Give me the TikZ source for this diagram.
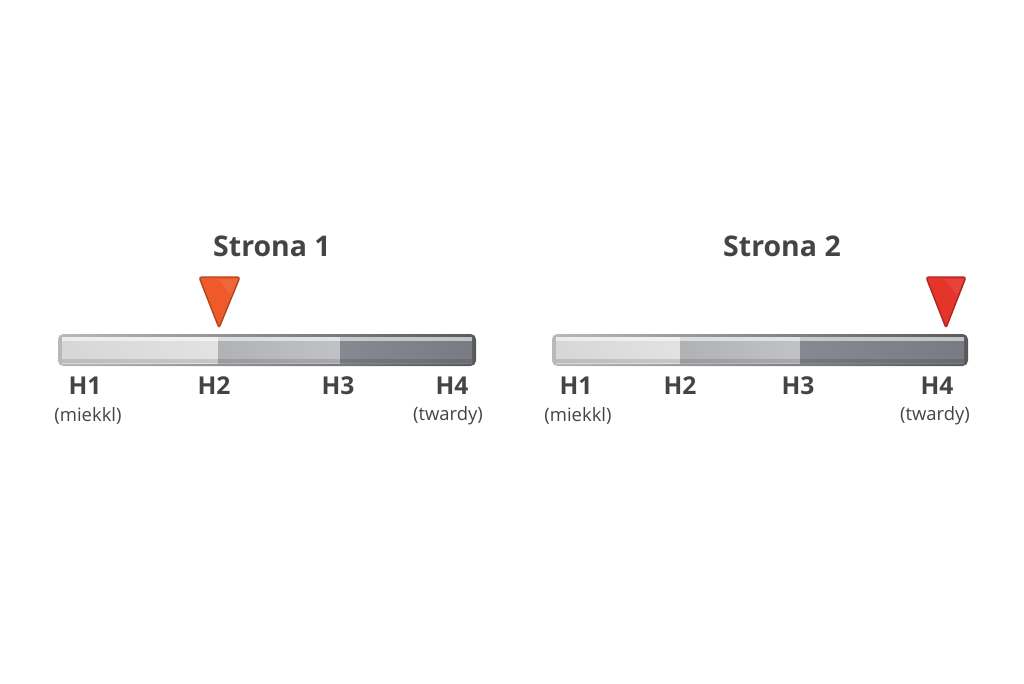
\documentclass[tikz,border=0pt]{standalone}
\usepackage{fontspec}
\setmainfont{Open Sans}
\usetikzlibrary{positioning}

\definecolor{txtgray}{HTML}{444444}
\definecolor{barlight}{HTML}{E2E2E2}
\definecolor{barmid}{HTML}{B9BBBE}
\definecolor{bardark}{HTML}{868990}
\definecolor{markorange}{HTML}{EE5A2A}
\definecolor{markred}{HTML}{E5342A}

\tikzset{
  title/.style={font=\bfseries\fontsize{16.2}{19}\selectfont, text=txtgray},
  grade/.style={font=\bfseries\fontsize{14}{16}\selectfont, text=txtgray},
  remark/.style={font=\fontsize{10.5}{12}\selectfont, text=txtgray},
}

\begin{document}
\begin{tikzpicture}[x=0.02cm,y=-0.02cm]
  \useasboundingbox (0,0) rectangle (1024,683);

  % skala 1
  \shade[rounded corners=3, left color=gray!55, right color=black!65] (58,334) rectangle (476,366);
  \shade[left color=barlight!95!black, right color=barlight] (62,337) rectangle (218,363);
  \shade[left color=barmid!95!black, right color=barmid!90!white] (218,337) rectangle (340,363);
  \shade[left color=bardark, right color=bardark!90!black] (340,337) rectangle (472,363);
  \fill[white, opacity=0.55] (62,337) rectangle (472,341);
  \fill[black, opacity=0.12] (62,359) rectangle (472,363);

  % skala 2
  \shade[rounded corners=3, left color=gray!55, right color=black!65] (552,334) rectangle (968,366);
  \shade[left color=barlight!95!black, right color=barlight] (556,337) rectangle (680,363);
  \shade[left color=barmid!95!black, right color=barmid!90!white] (680,337) rectangle (800,363);
  \shade[left color=bardark, right color=bardark!90!black] (800,337) rectangle (964,363);
  \fill[white, opacity=0.55] (556,337) rectangle (964,341);
  \fill[black, opacity=0.12] (556,359) rectangle (964,363);

  % znaczniki
  \filldraw[fill=markorange, draw=markorange!75!black, line width=0.8pt, rounded corners=1.5, line join=round]
    (199,277) -- (240,277) -- (219,328) -- cycle;
  \fill[white, opacity=0.08] (218,279) -- (238,279) -- (231,296) -- cycle;
  \filldraw[fill=markred, draw=markred!75!black, line width=0.8pt, rounded corners=1.5, line join=round]
    (926,277) -- (966,277) -- (946,328) -- cycle;
  \fill[white, opacity=0.08] (945,279) -- (964,279) -- (957,296) -- cycle;

  % napisy
  \node[title] (t1) at (272,246) {Strona 1};
  \node[title] (t2) at (782,246) {Strona 2};

  \node[grade] (a1) at (85,386) {H1};
  \node[grade] (a2) at (214,386) {H2};
  \node[grade] (a3) at (338,386) {H3};
  \node[grade] (a4) at (452,386) {H4};
  \node[remark] (a1n) at (88,416) {(miekkl)};
  \node[remark] (a4n) at (448,416) {(twardy)};

  \node[grade] (b1) at (576,386) {H1};
  \node[grade] (b2) at (680,386) {H2};
  \node[grade] (b3) at (798,386) {H3};
  \node[grade] (b4) at (937,386) {H4};
  \node[remark] (b1n) at (578,416) {(miekkl)};
  \node[remark] (b4n) at (935,416) {(twardy)};
\end{tikzpicture}
\end{document}
